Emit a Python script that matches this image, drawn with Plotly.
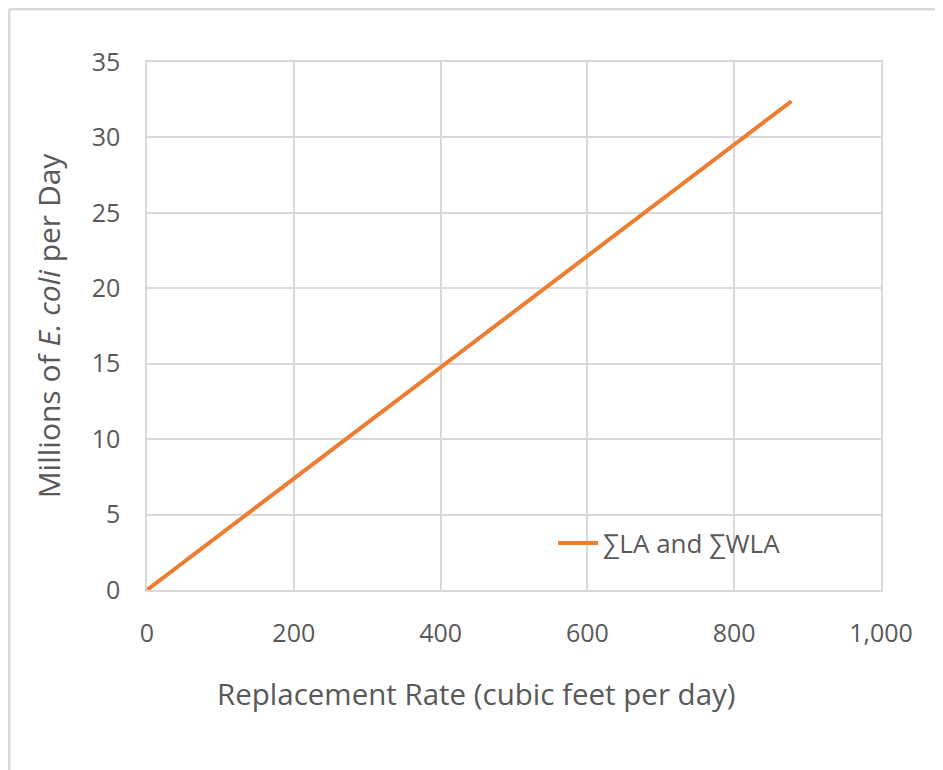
import plotly.graph_objects as go

# Data
replacement_rate = [0, 878]          # cubic feet per day
ecoli_millions = [0, 32.4]           # millions of E. coli per day
series_name = "∑LA and ∑WLA"
x_ticks = [0, 200, 400, 600, 800, 1000]
x_tick_labels = ["0", "200", "400", "600", "800", "1,000"]
y_ticks = [0, 5, 10, 15, 20, 25, 30, 35]
x_title = "Replacement Rate (cubic feet per day)"
y_title = "Millions of <i>E. coli</i> per Day"

# page body has an 8px margin; work in screen pixels, convert to figure
OFF = 8
W, H = 943 - OFF, 770 - OFF
L, R, T, B = 147 - OFF, 62, 62 - OFF, 180
pw, ph = W - L - R, H - T - B

def px(x):  # screen pixel x -> paper
    return (x - OFF - L) / pw

def py(y):  # screen pixel y -> paper
    return (H - B - (y - OFF)) / ph

grey = "#595959"
grid = "#d9d9d9"
font_family = "Open Sans, Noto Sans, sans-serif"

fig = go.Figure()
fig.add_trace(go.Scatter(
    x=replacement_rate, y=ecoli_millions, mode="lines", name=series_name,
    line=dict(color="#ED7D31", width=4), showlegend=True,
))

fig.update_layout(
    width=W, height=H,
    margin=dict(l=L, r=R, t=T, b=B, autoexpand=False),
    paper_bgcolor="white", plot_bgcolor="white",
    font=dict(family=font_family, size=25, color=grey),
    showlegend=True,
    legend=dict(
        x=px(553), y=py(543), xanchor="left", yanchor="middle",
        bgcolor="rgba(0,0,0,0)", font=dict(size=26, color=grey),
        itemwidth=40,
    ),
    xaxis=dict(
        range=[0, 1000], tickvals=x_ticks, ticktext=x_tick_labels,
        showgrid=True, gridcolor=grid, gridwidth=1.5,
        showline=True, linecolor=grid, linewidth=1.5, mirror=True,
        zeroline=False, ticks="", ticklabelstandoff=20,
        tickfont=dict(size=25, color=grey),
    ),
    yaxis=dict(
        range=[0, 35], tickvals=y_ticks,
        showgrid=True, gridcolor=grid, gridwidth=1.5,
        showline=True, linecolor=grid, linewidth=1.5, mirror=True,
        zeroline=False, ticks="", ticklabelstandoff=20,
        tickfont=dict(size=25, color=grey),
        title=dict(text=y_title, standoff=22,
                   font=dict(size=30, color=grey)),
    ),
    annotations=[
        dict(text=x_title, xref="paper", yref="paper",
             x=px(476), y=py(693), xanchor="center", yanchor="middle",
             showarrow=False, font=dict(size=29.5, color=grey)),
    ],
    shapes=[
        # white legend background covering gridlines
        dict(type="rect", xref="paper", yref="paper",
             x0=px(432), x1=px(873), y0=py(572), y1=py(511),
             fillcolor="white", line=dict(width=0), layer="between"),
        # outer chart frame (top and left edges visible)
        dict(type="line", xref="paper", yref="paper",
             x0=px(9), x1=px(943), y0=py(9), y1=py(9),
             line=dict(color=grid, width=3)),
        dict(type="line", xref="paper", yref="paper",
             x0=px(9), x1=px(9), y0=py(9), y1=py(770),
             line=dict(color=grid, width=3)),
    ],
)

fig.write_html("out.html")
